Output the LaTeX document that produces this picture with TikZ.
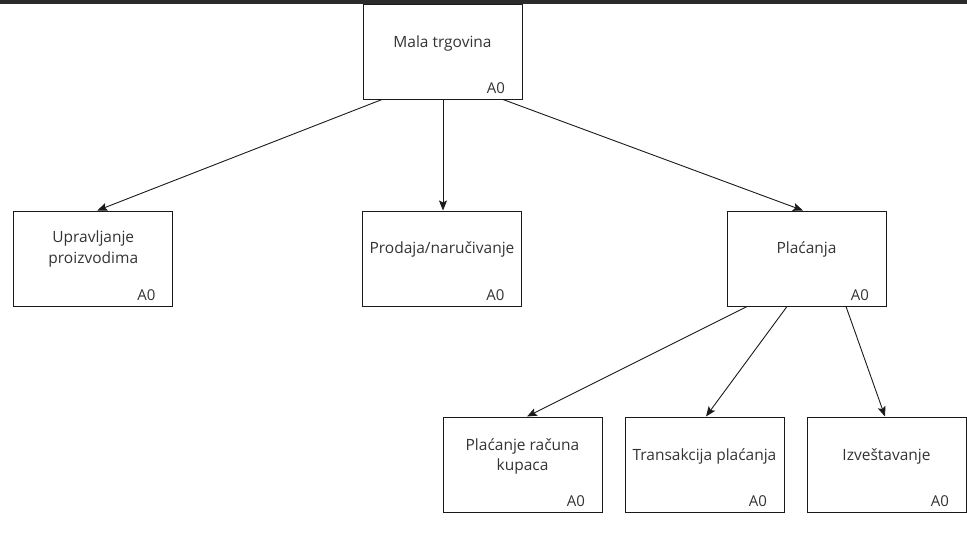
\documentclass[tikz,border=0pt]{standalone}
\usepackage{fontspec}
\setmainfont{Open Sans}
\usetikzlibrary{arrows.meta}
\definecolor{txt}{HTML}{333333}
\definecolor{ln}{HTML}{1A1A1A}
\definecolor{bar}{HTML}{2B2B2B}
\begin{document}
\begin{tikzpicture}[x=1pt,y=-1pt,
  box/.style={draw=ln,line width=1pt,minimum width=159pt,minimum height=95pt,inner sep=0pt},
  lbl/.style={text=txt,font=\fontsize{15.5}{20.5}\selectfont,align=center,inner sep=0pt,anchor=base},
  code/.style={text=txt,font=\fontsize{15}{18}\selectfont,inner sep=0pt,anchor=base},
  arr/.style={draw=ln,line width=0.9pt,-{Stealth[length=10pt,width=8pt,inset=2pt]}}]
\useasboundingbox (0,0) rectangle (967,538);
% top box
\node[box] (top) at (442.5,51.5) {};
\node[lbl] (topt) at (442.5,47) {Mala trgovina};
\node[code] (topa) at (496,93) {A0};
% level 2
\node[box] (up) at (93.3,258.5) {};
\node[lbl] (upt) at (93.3,263) {Upravljanje\\proizvodima};
\node[code] (upa) at (146.5,300) {A0};
\node[box] (pr) at (442,258.5) {};
\node[lbl] (prt) at (442,253) {Prodaja/naručivanje};
\node[code] (pra) at (495.5,300) {A0};
\node[box] (pl) at (806.5,258.5) {};
\node[lbl] (plt) at (806.5,253) {Plaćanja};
\node[code] (pla) at (860,300) {A0};
% level 3
\node[box] (pk) at (522.5,464.5) {};
\node[lbl] (pkt) at (522.5,470.5) {Plaćanje računa\\kupaca};
\node[code] (pka) at (576,506) {A0};
\node[box] (tp) at (704.5,464.5) {};
\node[lbl] (tpt) at (704.5,460) {Transakcija plaćanja};
\node[code] (tpa) at (758,506) {A0};
\node[box] (iz) at (886.5,464.5) {};
\node[lbl] (izt) at (886.5,460) {Izveštavanje};
\node[code] (iza) at (940,506) {A0};
% arrows
\draw[arr] ([xshift=-60.5pt]top.south) -- ([xshift=4pt]up.north);
\draw[arr] ([xshift=0.5pt]top.south) -- ([xshift=1pt]pr.north);
\draw[arr] ([xshift=60.5pt]top.south) -- ([xshift=-3.5pt]pl.north);
\draw[arr] ([xshift=-59.5pt]pl.south) -- ([xshift=4.5pt]pk.north);
\draw[arr] ([xshift=-19.5pt]pl.south) -- ([xshift=1.5pt]tp.north);
\draw[arr] ([xshift=39.5pt]pl.south) -- ([xshift=-1.5pt]iz.north);
% top bar
\fill[bar] (0,0) rectangle (967,4);
\end{tikzpicture}
\end{document}
